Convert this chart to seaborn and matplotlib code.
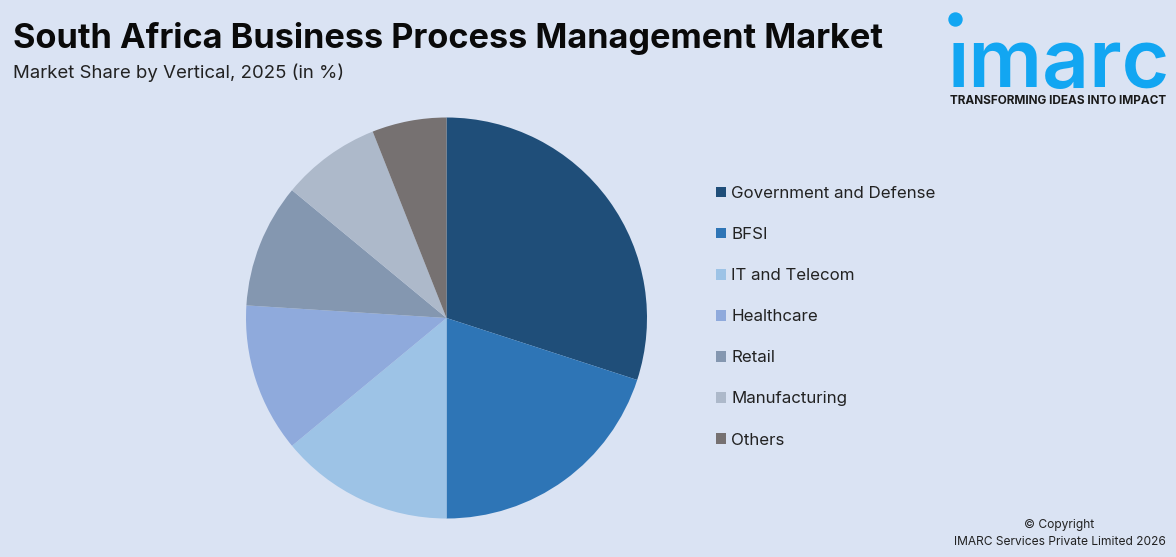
import matplotlib
matplotlib.use("Agg")
import matplotlib.pyplot as plt
from matplotlib.patches import Patch, Circle
from matplotlib.transforms import IdentityTransform
import seaborn as sns

verticals = ["Government and Defense", "BFSI", "IT and Telecom", "Healthcare",
             "Retail", "Manufacturing", "Others"]
shares = [30, 20, 14, 12, 10, 8, 6]
slice_colors = ["#1F4E79", "#2E75B6", "#9DC3E6", "#8FAADC", "#8497B0", "#ADB9CA", "#767171"]
title = "South Africa Business Process Management Market"
subtitle = "Market Share by Vertical, 2025 (in %)"
tagline = "TRANSFORMING IDEAS INTO IMPACT"
copyright_lines = ["© Copyright", "IMARC Services Private Limited 2026"]

W, H = 1176, 557
BG = "#DAE3F3"

sns.set_theme(style="white")
sns.set_palette(slice_colors)
plt.rcParams["font.family"] = ["Inter", "DejaVu Sans"]

fig = plt.figure(figsize=(W / 100, H / 100), dpi=100, facecolor=BG)

# pie, placed in pixels
cx, cy, r = 446.5, 318, 200.5
ax = fig.add_axes([(cx - r) / W, 1 - (cy + r) / H, 2 * r / W, 2 * r / H])
wedges, _ = ax.pie(shares, colors=sns.color_palette(), startangle=90, counterclock=False,
                   radius=1, wedgeprops={"linewidth": 0})
ax.set_xlim(-1, 1)
ax.set_ylim(-1, 1)
ax.set_aspect("equal")

handles = [Patch(facecolor=c, edgecolor="none", label=v) for v, c in zip(verticals, slice_colors)]
leg = fig.legend(handles=handles, loc="upper left", bbox_to_anchor=(716 / W, 1 - 186 / H),
                 frameon=False, fontsize=12.2, handlelength=0.59, handleheight=0.59,
                 handletextpad=0.3, labelspacing=1.54, borderpad=0, borderaxespad=0,
                 labelcolor="#222222")

fig.text(13 / W, 1 - 38.5 / H, title, fontsize=24.7, fontweight="bold", color="#0A0A0A", va="center")
fig.text(13 / W, 1 - 72.5 / H, subtitle, fontsize=13.4, color="#222222", va="center")

# logo
logo = "#12A6F2"
fig.text(1059 / W, 1 - 87 / H, "ımarc", fontsize=59, fontweight="semibold", color=logo,
         ha="center", va="baseline")
fig.add_artist(Circle((955.5, H - 19.5), 6.5, color=logo, transform=IdentityTransform()))
fig.text(1058.5 / W, 1 - 101 / H, tagline, fontsize=8.5, fontweight="bold", color="#1A1A1A",
         ha="center", va="center")

fig.text(1059 / W, 1 - 525 / H, copyright_lines[0], fontsize=8.65, color="#222222", ha="center", va="center")
fig.text(1060 / W, 1 - 542 / H, copyright_lines[1], fontsize=8.65, color="#222222", ha="center", va="center")

fig.savefig("out.png", dpi=100, facecolor=BG)
